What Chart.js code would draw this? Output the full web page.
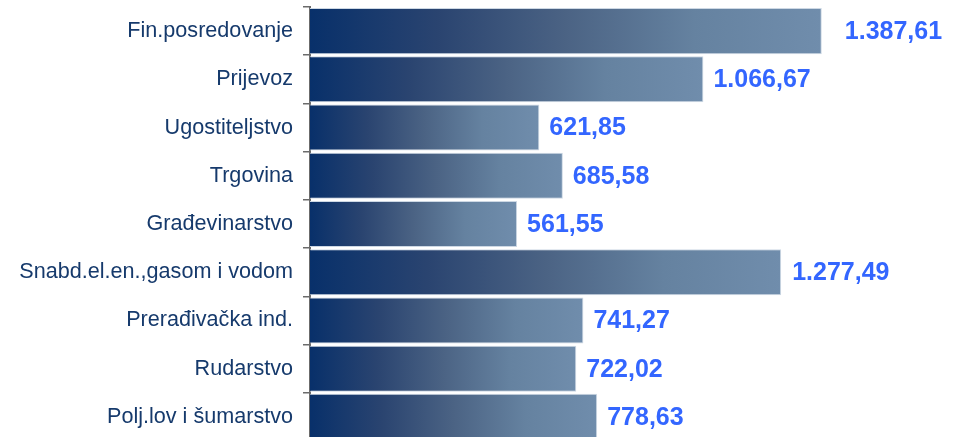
<!DOCTYPE html>
<html>
<head>
<meta charset="utf-8">
<script src="https://cdn.jsdelivr.net/npm/chart.js@4"></script>
<style>
  html, body { margin: 0; padding: 0; background: #fff; overflow: hidden; }
  .chart-box { width: 966px; height: 445px; position: relative; }
</style>
</head>
<body>
<div class="chart-box"><canvas id="chart"></canvas></div>
<script>
const categories = ['Fin.posredovanje', 'Prijevoz', 'Ugostiteljstvo', 'Trgovina', 'Građevinarstvo',
  'Snabd.el.en.,gasom i vodom', 'Prerađivačka ind.', 'Rudarstvo', 'Polj.lov i šumarstvo']
const values = [1387.61, 1066.67, 621.85, 685.58, 561.55, 1277.49, 741.27, 722.02, 778.63]
const valueLabels = ['1.387,61', '1.066,67', '621,85', '685,58', '561,55', '1.277,49', '741,27', '722,02', '778,63']
const labelGaps = [23, 10, 10, 10, 10, 11, 10, 10, 10]

const barGradient = (context) => {
  const chart = context.chart
  if (!chart.chartArea || context.dataIndex === undefined) return '#08306a'
  const x = chart.scales.x
  const start = x.getPixelForValue(0)
  const end = x.getPixelForValue(values[context.dataIndex])
  const g = chart.ctx.createLinearGradient(start, 0, end, 0)
  g.addColorStop(0, '#08306a')
  g.addColorStop(0.25, '#2a4470')
  g.addColorStop(0.5, '#4b6384')
  g.addColorStop(0.75, '#6582a0')
  g.addColorStop(1, '#708dac')
  return g
}

const valueLabelPlugin = {
  id: 'valueLabels',
  afterDatasetsDraw (chart) {
    const ctx = chart.ctx
    const meta = chart.getDatasetMeta(0)
    ctx.save()
    ctx.font = 'bold 25px "Liberation Sans", Arial, sans-serif'
    ctx.fillStyle = '#3366ff'
    ctx.textAlign = 'left'
    ctx.textBaseline = 'middle'
    meta.data.forEach((bar, i) => {
      ctx.fillText(valueLabels[i], bar.x + labelGaps[i], bar.y + 1)
    })
    ctx.restore()
  }
}

new Chart(document.getElementById('chart'), {
  type: 'bar',
  data: {
    labels: categories,
    datasets: [{
      data: values,
      backgroundColor: barGradient,
      borderColor: '#cdd8e4',
      borderWidth: 1,
      barPercentage: 0.955,
      categoryPercentage: 1
    }]
  },
  options: {
    indexAxis: 'y',
    responsive: true,
    maintainAspectRatio: false,
    animation: false,
    layout: { padding: { top: 7, bottom: 4, left: 0, right: 29 } },
    plugins: { legend: { display: false }, tooltip: { enabled: false } },
    scales: {
      x: {
        display: false,
        min: 0,
        max: 1700
      },
      y: {
        afterFit: (scale) => {
          scale.width = 310
          scale.paddingTop = 0
          scale.paddingBottom = 0
        },
        border: { display: true, color: '#6b6b6b', width: 2 },
        grid: {
          display: true,
          drawOnChartArea: false,
          drawTicks: true,
          tickLength: 7,
          color: '#6b6b6b',
          lineWidth: 1.5
        },
        ticks: {
          padding: 10,
          color: '#163a6c',
          font: { family: '"Liberation Sans", Arial, sans-serif', size: 21.6 }
        }
      }
    }
  },
  plugins: [valueLabelPlugin]
})
</script>
</body>
</html>
